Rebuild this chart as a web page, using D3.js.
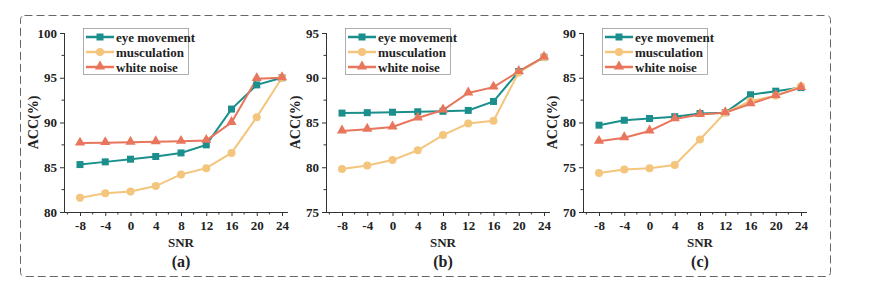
<!DOCTYPE html>
<html>
<head>
<meta charset="utf-8">
<script src="https://cdn.jsdelivr.net/npm/d3@7"></script>
<style>
  body { margin: 0; background: #fff; }
  svg text { font-family: "Liberation Serif", "Times New Roman", serif; font-weight: bold; fill: #222; }
</style>
</head>
<body>
<svg id="chart" width="879" height="297"></svg>
<script>
// x categories (SNR)
var snr = [-8, -4, 0, 4, 8, 12, 16, 20, 24];
var seriesNames = ["eye movement", "musculation", "white noise"];
var panelLabels = ["(a)", "(b)", "(c)"];

// panel (a)
var eyeA = [85.3, 85.6, 85.9, 86.2, 86.6, 87.5, 91.5, 94.2, 95.0];
var musA = [81.6, 82.1, 82.3, 82.9, 84.2, 84.9, 86.6, 90.6, 95.0];
var whiA = [87.7, 87.75, 87.8, 87.85, 87.9, 88.0, 90.0, 94.9, 95.0];
// panel (b)
var eyeB = [86.05, 86.1, 86.15, 86.2, 86.25, 86.35, 87.35, 90.7, 92.3];
var musB = [79.8, 80.2, 80.8, 81.9, 83.6, 84.9, 85.2, 90.6, 92.3];
var whiB = [84.05, 84.25, 84.5, 85.5, 86.4, 88.3, 88.95, 90.7, 92.3];
// panel (c)
var eyeC = [79.7, 80.25, 80.45, 80.65, 81.0, 81.1, 83.1, 83.5, 83.9];
var musC = [74.35, 74.75, 74.9, 75.25, 78.1, 81.1, 82.4, 83.0, 84.05];
var whiC = [77.9, 78.3, 79.05, 80.4, 80.9, 81.1, 82.1, 83.0, 83.9];

// y ranges and ticks per panel
var yDomains = [[80, 100], [75, 95], [70, 90]];
var yTicks = [[80, 85, 90, 95, 100], [75, 80, 85, 90, 95], [70, 75, 80, 85, 90]];

var colors = ["#1b8f8c", "#f4c57c", "#e8755c"];
var markers = ["square", "circle", "triangle"];

var svg = d3.select("#chart");

// dashed outer frame
svg.append("rect")
  .attr("x", 20.5).attr("y", 15.5)
  .attr("width", 810).attr("height", 261)
  .attr("rx", 4)
  .attr("fill", "none").attr("stroke", "#666").attr("stroke-width", 1)
  .attr("stroke-dasharray", "8,4");

var panels = [
  { left: 64, data: [eyeA, musA, whiA] },
  { left: 326, data: [eyeB, musB, whiB] },
  { left: 583, data: [eyeC, musC, whiC] }
];

var plotTop = 33, plotBottom = 212, axisW = 224;

panels.forEach(function (p, i) {
  var g = svg.append("g").attr("transform", "translate(" + p.left + ",0)");

  var x = d3.scalePoint().domain(snr).range([16, 218]);
  var y = d3.scaleLinear().domain(yDomains[i]).range([plotBottom, plotTop]);

  // y axis
  var yAxis = g.append("g")
    .call(d3.axisLeft(y).tickValues(yTicks[i]).tickSize(4).tickSizeOuter(0).tickPadding(3));
  // minor y ticks
  var d0 = yDomains[i][0];
  var minorY = [2.5, 7.5, 12.5, 17.5].map(function (v) { return d0 + v; });
  g.selectAll(".minory").data(minorY).enter().append("line")
    .attr("x1", -2.5).attr("x2", 0)
    .attr("y1", function (d) { return y(d); }).attr("y2", function (d) { return y(d); })
    .attr("stroke", "#333");

  // x axis
  var xAxis = g.append("g").attr("transform", "translate(0," + plotBottom + ")")
    .call(d3.axisBottom(x).tickSize(4).tickSizeOuter(0).tickPadding(5));
  // minor x ticks
  var step = x(snr[1]) - x(snr[0]);
  var minorX = snr.map(function (d) { return x(d) + step / 2; });
  minorX.unshift(x(snr[0]) - step / 2);
  g.selectAll(".minorx").data(minorX.filter(function (v) { return v > 0 && v < axisW; })).enter().append("line")
    .attr("x1", function (d) { return d; }).attr("x2", function (d) { return d; })
    .attr("y1", plotBottom).attr("y2", plotBottom + 2.5)
    .attr("stroke", "#333");

  [yAxis, xAxis].forEach(function (a) {
    a.selectAll("path, line").attr("stroke", "#333");
    a.selectAll("text").style("font-size", "13px").style("font-family", "Liberation Serif, serif").style("font-weight", "bold").attr("fill", "#222");
  });
  yAxis.select(".domain").attr("d", "M0.5," + plotBottom + "V" + plotTop);
  xAxis.select(".domain").attr("d", "M0,0.5H" + axisW);

  // axis titles
  g.append("text")
    .attr("transform", "translate(-26," + ((plotTop + plotBottom) / 2) + ") rotate(-90)")
    .attr("text-anchor", "middle")
    .style("font-size", "14px")
    .text("ACC(%)");
  g.append("text")
    .attr("x", x(8)).attr("y", 247)
    .attr("text-anchor", "middle")
    .style("font-size", "13px")
    .text("SNR");
  g.append("text")
    .attr("x", x(8)).attr("y", 267)
    .attr("text-anchor", "middle")
    .style("font-size", "16px")
    .text(panelLabels[i]);

  // lines and markers
  var line = d3.line().x(function (d, k) { return x(snr[k]); }).y(function (d) { return y(d); });
  p.data.forEach(function (vals, s) {
    g.append("path").datum(vals)
      .attr("d", line)
      .attr("fill", "none")
      .attr("stroke", colors[s])
      .attr("stroke-width", 2);
  });
  p.data.forEach(function (vals, s) {
    drawMarkers(g, vals.map(function (v, k) { return [x(snr[k]), y(v)]; }), s);
  });

  // legend
  var lg = g.append("g").attr("transform", "translate(19,28)");
  lg.append("rect").attr("x", 0.5).attr("y", 0.5).attr("width", 105).attr("height", 46)
    .attr("fill", "#fff").attr("stroke", "#999").attr("stroke-width", 0.8);
  seriesNames.forEach(function (name, s) {
    var yy = 9 + s * 15;
    lg.append("line").attr("x1", 3).attr("x2", 31).attr("y1", yy).attr("y2", yy)
      .attr("stroke", colors[s]).attr("stroke-width", 2.5);
    drawMarkers(lg, [[17, yy]], s);
    lg.append("text").attr("x", 33).attr("y", yy + 4.5)
      .style("font-size", "13px").text(name);
  });
});

function drawMarkers(g, pts, s) {
  var c = colors[s];
  pts.forEach(function (pt) {
    if (markers[s] == "square") {
      g.append("rect").attr("x", pt[0] - 3.5).attr("y", pt[1] - 3.5)
        .attr("width", 7).attr("height", 7).attr("fill", c);
    } else if (markers[s] == "circle") {
      g.append("circle").attr("cx", pt[0]).attr("cy", pt[1]).attr("r", 4).attr("fill", c);
    } else {
      g.append("path").attr("d", d3.symbol().type(d3.symbolTriangle).size(45)())
        .attr("transform", "translate(" + pt[0] + "," + (pt[1] - 0.5) + ")")
        .attr("fill", c);
    }
  });
}
</script>
</body>
</html>
